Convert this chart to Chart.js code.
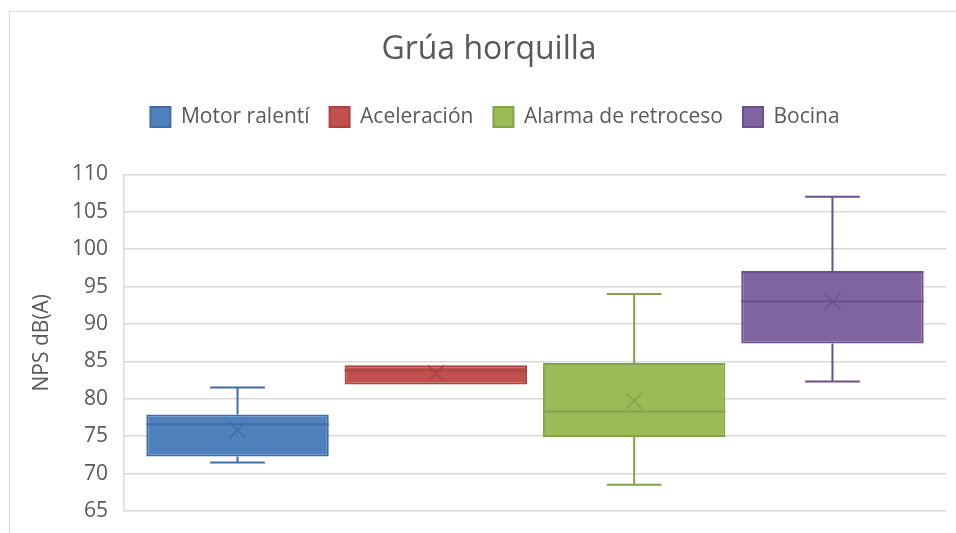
<!DOCTYPE html>
<html lang="es">
<head>
    <meta charset="UTF-8">
    <title>Grúa horquilla</title>
    <script src="https://cdn.jsdelivr.net/npm/chart.js"></script>
    <style>
        body {
            margin: 0;
            background: white;
            overflow: hidden;
        }
        .marco {
            position: absolute;
            left: 9px;
            top: 11px;
            width: 1000px;
            height: 600px;
            border: 1px solid #d9d9d9;
        }
        canvas {
            position: absolute;
            left: 0;
            top: 0;
        }
    </style>
</head>
<body>
    <div class="marco"></div>
    <canvas id="grafico" width="956" height="533"></canvas>

    <script>
        // datos (dB(A))
        const categorias = ["Motor ralentí", "Aceleración", "Alarma de retroceso", "Bocina"];
        const minimos  = [71.5, 81.9, 68.5, 82.3];
        const cuartil1 = [72.3, 81.9, 74.9, 87.4];
        const medianas = [76.6, 83.8, 78.3, 93.0];
        const cuartil3 = [77.9, 84.5, 84.8, 97.1];
        const maximos  = [81.5, 84.5, 94.0, 107.0];
        const medias   = [75.8, 83.4, 79.7, 93.0];
        const ticksY   = [65, 110, 5]; // min, max, paso

        const rellenos = ["#4F81BD", "#C0504D", "#9BBB59", "#8064A2"];
        const bordes   = ["#3F6EA6", "#A94441", "#83A24A", "#6A5189"];
        const gris = "#595959";
        const fuente = "'Open Sans', sans-serif";

        // bigotes, mediana y media (X) sobre cada caja
        const bigotes = {
            id: "bigotes",
            afterDatasetsDraw(chart) {
                const ctx = chart.ctx;
                const y = chart.scales.y;
                chart.data.datasets.forEach((ds, i) => {
                    const barra = chart.getDatasetMeta(i).data[0];
                    if (!barra) return;
                    const cx = barra.x;
                    const mitad = barra.width / 2;
                    const tapa = barra.width * 0.15;
                    ctx.save();
                    ctx.strokeStyle = bordes[i];
                    ctx.lineWidth = 2;
                    ctx.beginPath();
                    const ym = y.getPixelForValue(medianas[i]);
                    ctx.moveTo(cx - mitad, ym);
                    ctx.lineTo(cx + mitad, ym);
                    if (maximos[i] > cuartil3[i]) {
                        const y3 = y.getPixelForValue(cuartil3[i]);
                        const yMax = y.getPixelForValue(maximos[i]);
                        ctx.moveTo(cx, y3);
                        ctx.lineTo(cx, yMax);
                        ctx.moveTo(cx - tapa, yMax);
                        ctx.lineTo(cx + tapa, yMax);
                    }
                    if (minimos[i] < cuartil1[i]) {
                        const y1 = y.getPixelForValue(cuartil1[i]);
                        const yMin = y.getPixelForValue(minimos[i]);
                        ctx.moveTo(cx, y1);
                        ctx.lineTo(cx, yMin);
                        ctx.moveTo(cx - tapa, yMin);
                        ctx.lineTo(cx + tapa, yMin);
                    }
                    ctx.stroke();
                    const yx = y.getPixelForValue(medias[i]);
                    const s = 8;
                    ctx.lineWidth = 1.5;
                    ctx.beginPath();
                    ctx.moveTo(cx - s, yx - s);
                    ctx.lineTo(cx + s, yx + s);
                    ctx.moveTo(cx + s, yx - s);
                    ctx.lineTo(cx - s, yx + s);
                    ctx.stroke();
                    ctx.restore();
                });
            }
        };

        // más espacio bajo la leyenda, y título/leyenda algo a la derecha
        const ajusteCabecera = {
            id: "ajusteCabecera",
            beforeInit(chart) {
                const fitOriginal = chart.legend.fit;
                chart.legend.fit = function () {
                    fitOriginal.bind(chart.legend)();
                    this.height += 37;
                };
            },
            afterLayout(chart) {
                chart.legend.left += 12;
                chart.legend.right += 12;
                chart.titleBlock.left += 6;
                chart.titleBlock.right += 6;
            }
        };

        const datasets = categorias.map((nombre, i) => ({
            label: nombre,
            data: [[cuartil1[i], cuartil3[i]]],
            backgroundColor: rellenos[i],
            borderColor: bordes[i],
            borderWidth: 2,
            borderSkipped: false
        }));

        const ctx = document.getElementById("grafico").getContext("2d");
        new Chart(ctx, {
            type: "bar",
            data: {
                labels: [""],
                datasets: datasets
            },
            options: {
                responsive: false,
                animation: false,
                devicePixelRatio: 1,
                categoryPercentage: 0.965,
                barPercentage: 0.92,
                layout: {
                    padding: { left: 20, right: 10, top: 14, bottom: 22 }
                },
                plugins: {
                    title: {
                        display: true,
                        text: "Grúa horquilla",
                        color: gris,
                        font: { family: fuente, size: 32, weight: "normal" },
                        padding: { top: 17, bottom: 17 }
                    },
                    legend: {
                        labels: {
                            color: gris,
                            font: { family: fuente, size: 21 },
                            boxWidth: 20,
                            boxHeight: 20,
                            padding: 20
                        }
                    },
                    tooltip: { enabled: false }
                },
                scales: {
                    x: {
                        display: false
                    },
                    y: {
                        min: ticksY[0],
                        max: ticksY[1],
                        ticks: {
                            stepSize: ticksY[2],
                            color: gris,
                            font: { family: fuente, size: 21 },
                            padding: 4
                        },
                        grid: {
                            color: "#d9d9d9",
                            lineWidth: 1.5,
                            drawTicks: true,
                            tickLength: 12,
                            tickColor: "rgba(0,0,0,0)"
                        },
                        border: { display: true, color: "#d9d9d9", width: 1.5 },
                        title: {
                            display: true,
                            text: "NPS dB(A)",
                            color: gris,
                            font: { family: fuente, size: 21 },
                            padding: { top: 9, bottom: 0 }
                        },
                        afterFit(scale) {
                            scale.width = 104;
                        }
                    }
                }
            },
            plugins: [bigotes, ajusteCabecera]
        });
    </script>
</body>
</html>
